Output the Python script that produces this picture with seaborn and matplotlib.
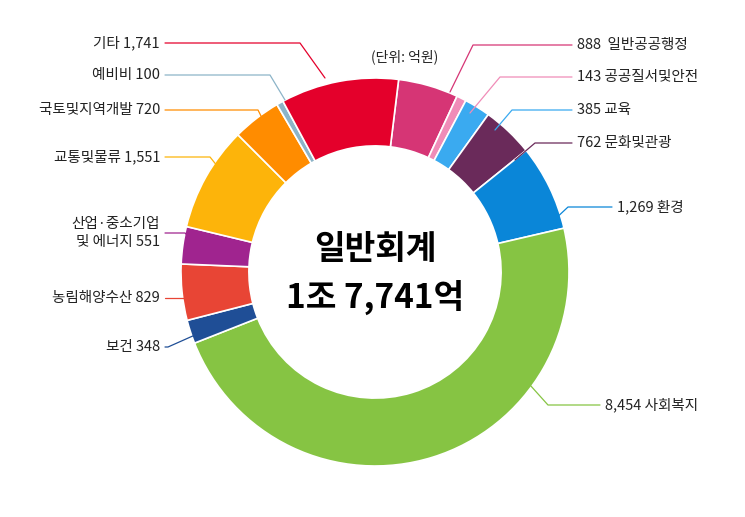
import matplotlib
matplotlib.use("Agg")
import matplotlib.pyplot as plt
import seaborn as sns

# data, clockwise from the top
labels = ["888  일반공공행정", "143 공공질서및안전", "385 교육", "762 문화및관광", "1,269 환경",
          "8,454 사회복지", "보건 348", "농림해양수산 829", "산업·중소기업\n및 에너지 551",
          "교통및물류 1,551", "국토및지역개발 720", "예비비 100", "기타 1,741"]
values = [888, 143, 385, 762, 1269, 8454, 348, 829, 551, 1551, 720, 100, 1741]
colors = ["#d63575", "#f08cb8", "#3aaaf0", "#6a2a5a", "#0a86d8", "#86c443", "#1f4e96",
          "#e84535", "#a0248f", "#fdb40a", "#ff8c00", "#8cb4c8", "#e4002b"]

# leader line layout: text anchor, elbow, end on wedge (pixel coords)
leaders = [
    ((577, 45), (473, 45), (450, 92)),
    ((577, 77), (500, 77), (470, 113)),
    ((577, 110), (512, 110), (495, 130)),
    ((577, 143), (535, 143), (515, 160)),
    ((617, 207), (568, 207), (552, 222)),
    ((605, 405), (548, 405), (530, 385)),
    ((160, 347), (168, 347), (195, 335)),
    ((160, 298), (170, 298), (190, 298)),
    ((160, 233), (185, 233), (192, 240)),
    ((160, 157), (210, 157), (222, 172)),
    ((160, 110), (258, 110), (268, 130)),
    ((160, 75), (270, 75), (285, 100)),
    ((160, 43), (300, 43), (325, 78)),
]

cjk = ["Noto Sans CJK KR", "Noto Sans CJK JP", "Noto Sans CJK SC", "DejaVu Sans"]
sns.set_theme(style="white", font="sans-serif", rc={"font.sans-serif": cjk})

fig = plt.figure(figsize=(7.45, 5.17), dpi=100)
ax = fig.add_axes([0, 0, 1, 1])

cx, cy, r = 375, 272, 194
ax.pie(values, colors=colors, startangle=83, counterclock=False, center=(cx, -cy),
       radius=r, wedgeprops=dict(width=r * 0.35, edgecolor="white", linewidth=1.2),
       frame=True)
# pie draws in y-up space; flip into pixel-style coordinates
for p in ax.patches:
    p.set_transform(matplotlib.transforms.Affine2D().scale(1, -1) + ax.transData)
ax.set_xlim(0, 745)
ax.set_ylim(517, 0)
ax.set_aspect("equal")
ax.axis("off")

for lab, col, (t, e, w) in zip(labels, colors, leaders):
    ax.plot([t[0] - 5 if t[0] > cx else t[0] + 5, e[0], w[0]], [t[1], e[1], w[1]],
            color=col, lw=0.9)
    ha = "left" if t[0] > cx else "right"
    ax.text(t[0], t[1], lab, ha=ha, va="center", fontsize=10.5, color="#222222",
            linespacing=1.3)

ax.text(405, 57, "(단위: 억원)", ha="center", va="center", fontsize=10, color="#222222")
ax.text(cx, cy - 22, "일반회계", ha="center", va="center", fontsize=24, fontweight="bold",
        color="black")
ax.text(cx, cy + 25, "1조 7,741억", ha="center", va="center", fontsize=24,
        fontweight="bold", color="black")

fig.savefig("out.png", dpi=100)
